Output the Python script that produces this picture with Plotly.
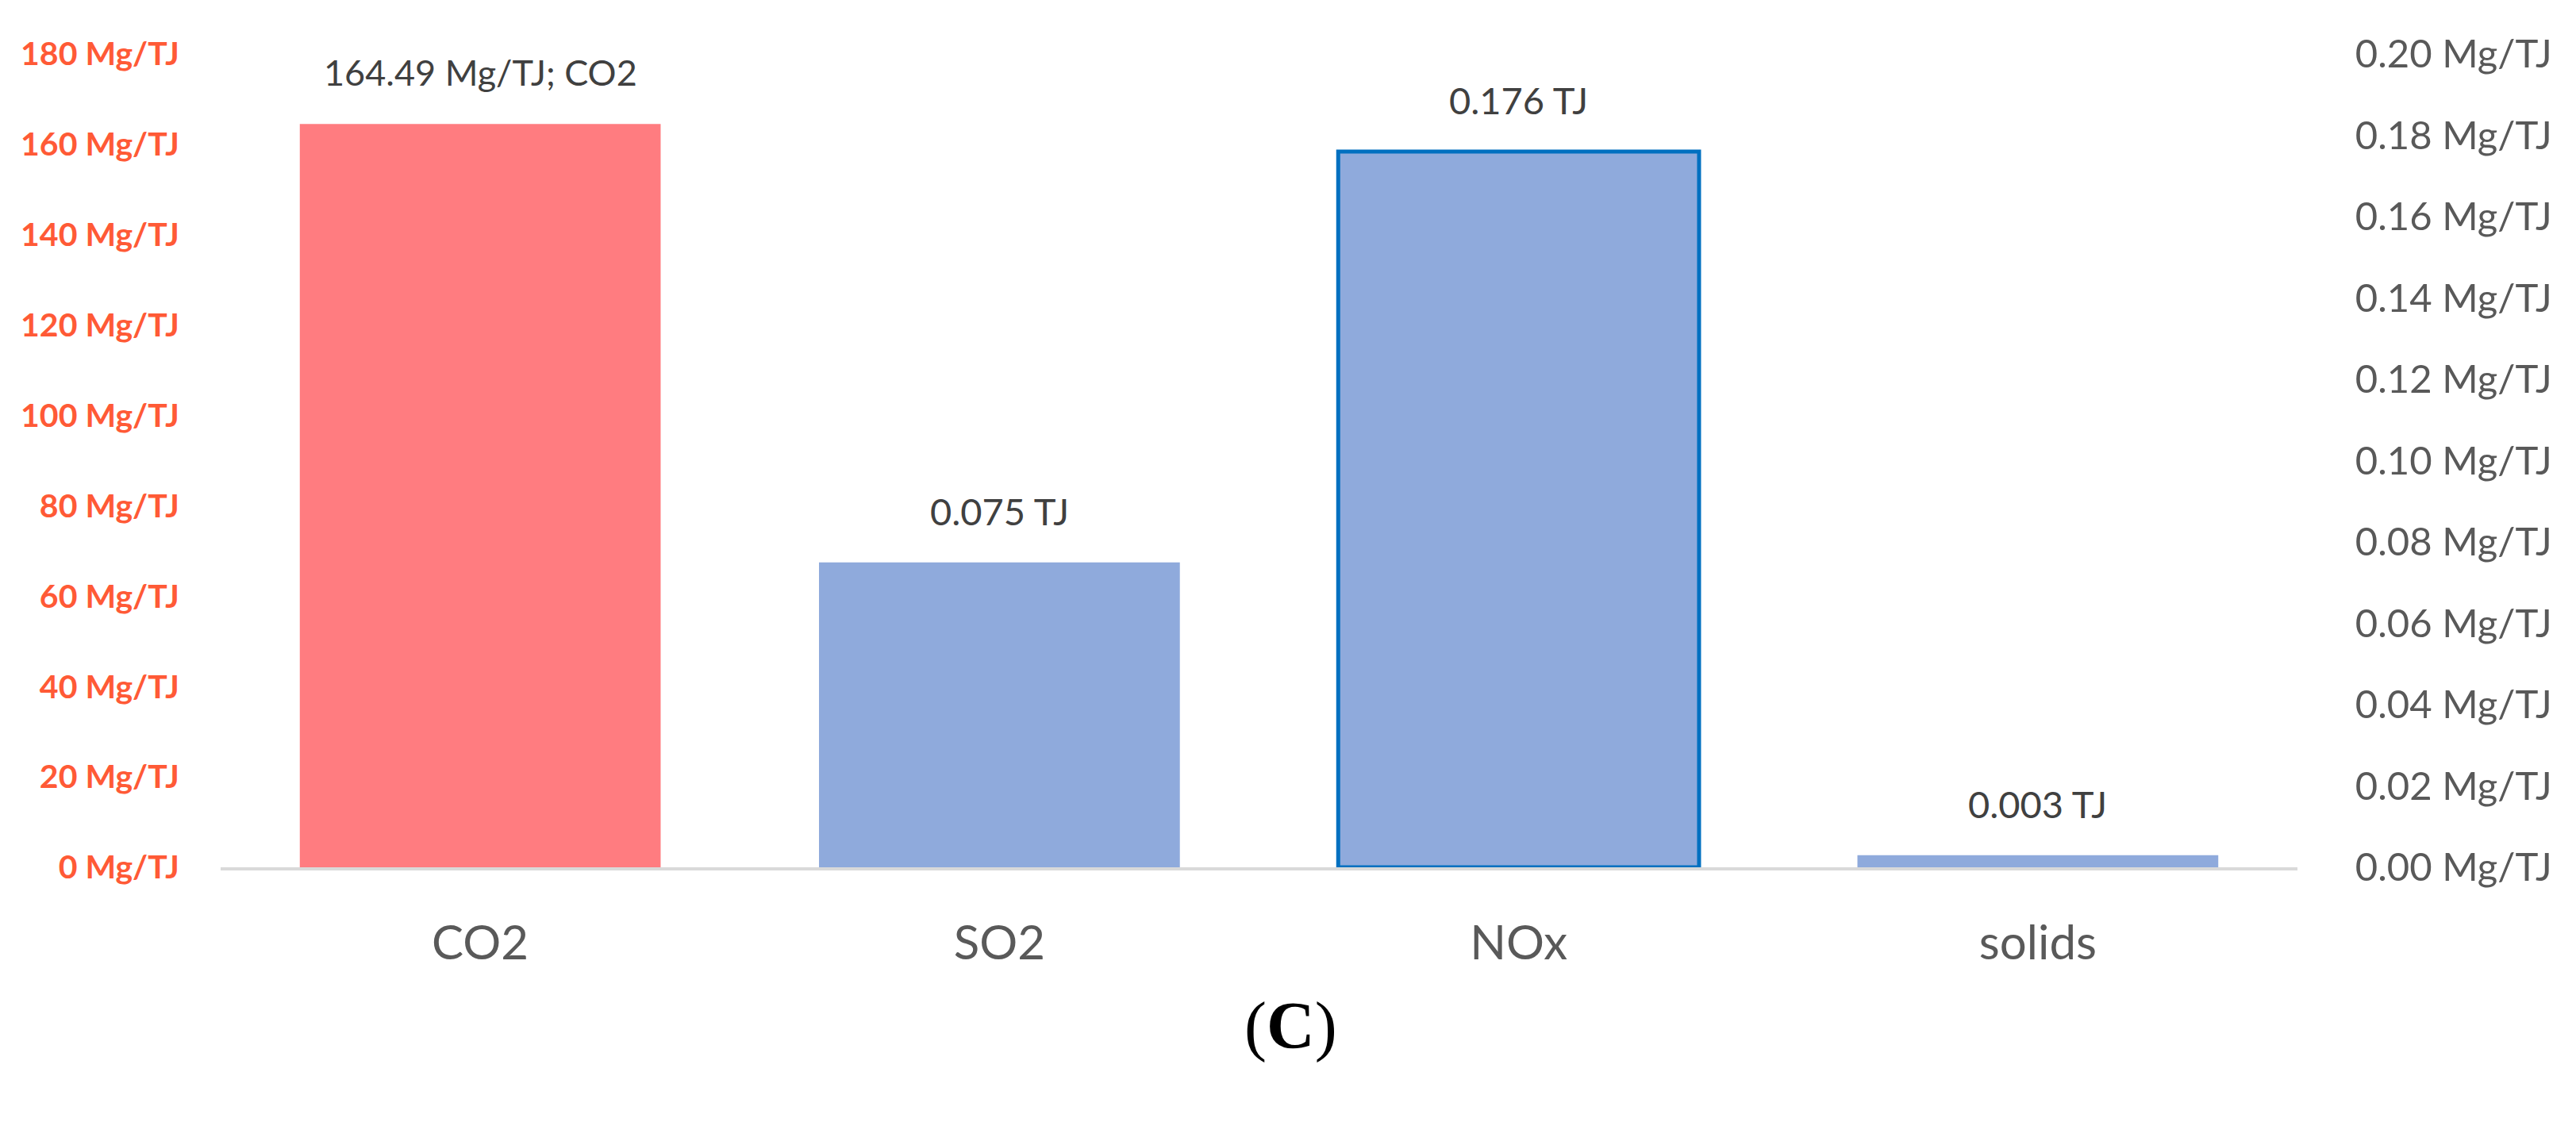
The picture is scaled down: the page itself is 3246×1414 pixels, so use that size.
import plotly.graph_objects as go

# ---- data ----
categories = ["CO2", "SO2", "NOx", "solids"]
co2_category = ["CO2"]
co2_values = [164.49]                      # Mg/TJ, left axis
other_categories = ["SO2", "NOx", "solids"]
other_values = [0.075, 0.176, 0.003]       # right axis
label_texts = ["164.49 Mg/TJ; CO2", "0.075 TJ", "0.176 TJ", "0.003 TJ"]
left_ticks = list(range(0, 181, 20))
right_ticks = [0.00, 0.02, 0.04, 0.06, 0.08, 0.10, 0.12, 0.14, 0.16, 0.18, 0.20]

FONT = "Lato"
fig = go.Figure()

fig.add_trace(go.Bar(
    x=co2_category, y=co2_values, yaxis="y",
    marker=dict(color="#FF7C80", line=dict(width=0)),
    showlegend=False, hoverinfo="x+y",
))
fig.add_trace(go.Bar(
    x=other_categories, y=other_values, yaxis="y2",
    marker=dict(color="#8FAADC",
                line=dict(color=["#8FAADC", "#0070C0", "#8FAADC"], width=[0, 5, 0])),
    showlegend=False, hoverinfo="x+y",
))

# data labels
fig.add_annotation(x=co2_category[0], y=co2_values[0], xref="x", yref="y",
                   text=label_texts[0], showarrow=False, yanchor="middle", yshift=65,
                   font=dict(family=FONT, size=45, color="#404040"))
for c, v, t in zip(other_categories, other_values, label_texts[1:]):
    fig.add_annotation(x=c, y=v, xref="x", yref="y2", text=t, showarrow=False,
                       yanchor="middle", yshift=65,
                       font=dict(family=FONT, size=47, color="#404040"))

# panel label
fig.add_annotation(x=0.5, y=0, xref="paper", yref="paper", xanchor="center",
                   yanchor="middle", yshift=-200, xshift=40,
                   text="(<b>C</b>)", showarrow=False,
                   font=dict(family="Liberation Serif", size=84, color="#000000"))

fig.update_layout(
    width=3246, height=1414,
    margin=dict(l=270, r=359, t=60, b=329),
    paper_bgcolor="white", plot_bgcolor="white",
    barmode="overlay", bargap=0.305,
    font=dict(family=FONT),
    xaxis=dict(categoryorder="array", categoryarray=categories,
               showline=True, linecolor="#D9D9D9", linewidth=4,
               ticks="outside", ticklen=40, tickcolor="rgba(0,0,0,0)",
               tickfont=dict(family=FONT, size=60, color="#595959"),
               showgrid=False, zeroline=False),
    yaxis=dict(range=[0, 180], tickvals=left_ticks,
               ticktext=[f"{v} Mg/TJ" for v in left_ticks],
               ticks="outside", ticklen=43, tickcolor="rgba(0,0,0,0)",
               tickfont=dict(family=FONT, size=41, color="#FF5A36", weight="bold"),
               showgrid=False, zeroline=False, showline=False),
    yaxis2=dict(range=[0, 0.2], tickvals=right_ticks,
                ticktext=[f"{v:.2f} Mg/TJ" for v in right_ticks],
                overlaying="y", side="right",
                ticks="outside", ticklen=62, tickcolor="rgba(0,0,0,0)",
                tickfont=dict(family=FONT, size=49, color="#595959"),
                showgrid=False, zeroline=False, showline=False),
)

fig.write_html("out.html")
